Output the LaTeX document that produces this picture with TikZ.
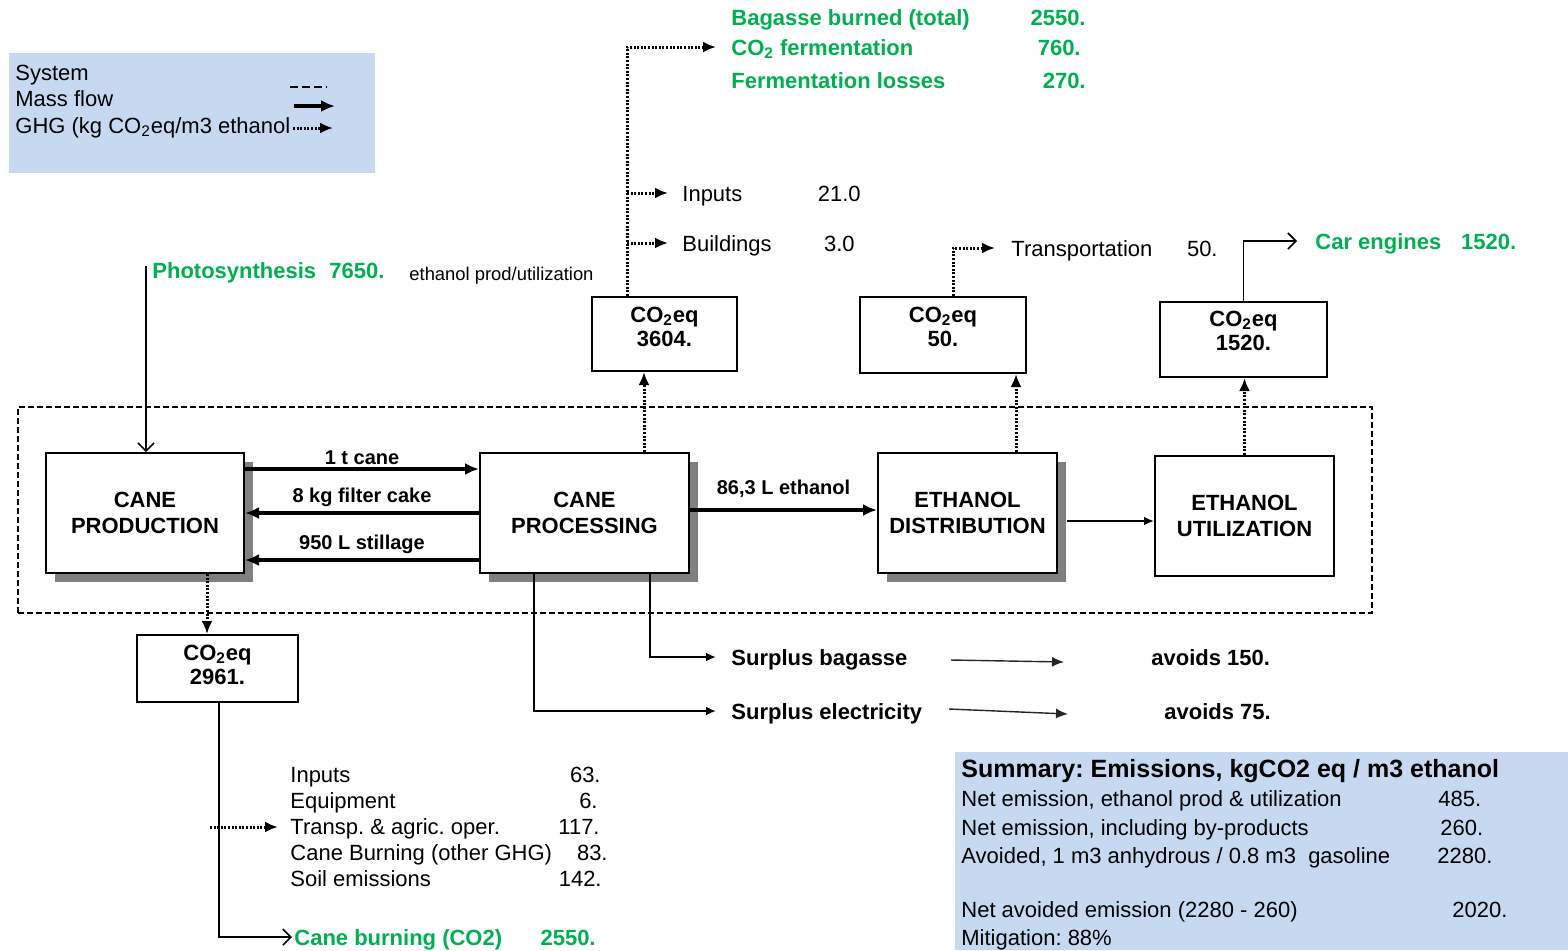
\documentclass[tikz,border=0pt]{standalone}
\usepackage{fontspec}
\setmainfont{Liberation Sans}
\usetikzlibrary{arrows.meta,positioning,calc,shadows}
\frenchspacing
\definecolor{ink}{HTML}{000000}
\definecolor{ghgGreen}{HTML}{00B050}
\definecolor{keyBlue}{HTML}{C6D9F1}
\definecolor{shadeGrey}{HTML}{808080}
\tikzset{
  >={Latex[length=7pt,width=6pt]},
  stage/.style={draw,line width=1pt,fill=white,align=center,inner sep=1pt,
    font=\fontsize{11}{13}\selectfont\bfseries,minimum height=60pt},
  shade/.style={drop shadow={shadow xshift=4.5pt,shadow yshift=-4.5pt,fill=shadeGrey,opacity=1}},
  co2box/.style={draw,line width=1pt,fill=white,align=center,inner sep=1pt,
    font=\fontsize{11}{12}\selectfont\bfseries},
  sysbox/.style={draw,line width=0.8pt,dash pattern=on 3pt off 1.5pt,
    minimum width=677pt,minimum height=103pt},
  keybox/.style={fill=keyBlue,inner sep=0pt},
  txt/.style={font=\fontsize{11}{13}\selectfont,anchor=west,inner sep=0pt,
    text height=10pt,text depth=1.8pt},
  numtxt/.style={txt,anchor=east},
  boldtxt/.style={txt,font=\fontsize{11}{13}\selectfont\bfseries},
  green/.style={boldtxt,text=ghgGreen},
  flowlab/.style={font=\fontsize{10}{12}\selectfont\bfseries,inner sep=1pt},
  mass/.style={->,line width=2.2pt},
  thinflow/.style={-{Latex[length=5pt,width=4.5pt]},line width=1pt},
  ghg/.style={-{Latex[length=6.5pt,width=5.5pt]},line width=1.5pt,dash pattern=on 1pt off 0.8pt},
  opena/.style={-{Straight Barb[length=4pt,width=8pt]},line width=0.8pt},
  avoid/.style={-{Latex[length=6pt,width=5pt]},line width=0.7pt,draw=black!85},
}
\begin{document}
\begin{tikzpicture}[x=0.5pt,y=-0.5pt]
\useasboundingbox (0,0) rectangle (1568,950);

% ================= KEY =================
\node[keybox,minimum width=183pt,minimum height=60pt] (key) at (192,113) {};
\node[txt] (kSys) at (15,72) {System};
\node[txt] (kMass) at (15,98) {Mass flow};
\node[txt] (kGhg) at (15,125) {GHG (kg CO\textsubscript{2}eq/m3 ethanol};
\coordinate (kd1) at (290,87); \coordinate (kd2) at (327,87);
\draw[line width=1pt,dash pattern=on 4pt off 2pt] (kd1) -- (kd2);
\coordinate (km1) at (294,106); \coordinate (km2) at (335,106);
\draw[mass] (km1) -- (km2);
\coordinate (kg1) at (293,128); \coordinate (kg2) at (333,128);
\draw[ghg] (kg1) -- (kg2);

% ================= SYSTEM =================
\node[sysbox] (system) at (695,510) {};
\node[stage,shade,minimum width=99pt] (prod) at (145,513) {CANE\\PRODUCTION};
\node[stage,shade,minimum width=104.5pt] (proc) at (584.5,513) {CANE\\PROCESSING};
\node[stage,shade,minimum width=89.5pt] (dist) at (967.5,513) {ETHANOL\\DISTRIBUTION};
\node[stage,minimum width=89.5pt] (util) at (1244.5,516) {ETHANOL\\UTILIZATION};

\draw[mass] ([yshift=22pt]prod.east) -- ([yshift=22pt]prod.east -| proc.west)
  node[flowlab,midway,above=0pt] {1 t cane};
\draw[mass] (proc.west) -- (proc.west -| prod.east)
  node[flowlab,midway,above=1pt] {8 kg filter cake};
\draw[mass] ([yshift=-23.5pt]proc.west) -- ([yshift=-23.5pt]proc.west -| prod.east)
  node[flowlab,midway,above=1pt] {950 L stillage};
\draw[mass] ([yshift=1.5pt]proc.east) -- ([yshift=1.5pt]proc.east -| dist.west)
  node[flowlab,midway,above=4pt] {86,3 L ethanol};
\draw[thinflow,shorten <=4.5pt] ([yshift=-4pt]dist.east) -- ([yshift=-4pt]dist.east -| util.west);

% ================= CO2 BOXES =================
\node[co2box,minimum width=72.5pt,minimum height=37pt,text depth=7pt] (c3604) at (664.5,334) {CO\textsubscript{2}eq\\3604.};
\node[co2box,minimum width=83pt,minimum height=38pt,text depth=8pt] (c50) at (943,335) {CO\textsubscript{2}eq\\50.};
\node[co2box,minimum width=83.5pt,minimum height=37.5pt,text depth=8.5pt] (c1520) at (1243.5,339.5) {CO\textsubscript{2}eq\\1520.};
\node[co2box,minimum width=80.5pt,minimum height=33.5pt,text depth=4pt] (c2961) at (217.5,668.5) {CO\textsubscript{2}eq\\2961.};

\draw[ghg] ([xshift=29.75pt]proc.north) -- ([xshift=29.75pt]proc.north |- c3604.south);
\draw[ghg] ([xshift=24.25pt]dist.north) -- ([xshift=24.25pt]dist.north |- c50.south);
\draw[ghg] (util.north) -- (util.north |- c1520.south);
\draw[ghg] ([xshift=31pt]prod.south) -- ([xshift=31pt]prod.south |- c2961.north);

% ================= PROCESSING OUTPUTS =================
\node[green] (bagT) at (731,17) {Bagasse burned (total)};
\node[green,anchor=east] (bagN) at (1086,17) {2550.};
\node[green] (ferm) at (731,47) {CO\textsubscript{2} fermentation};
\node[green,anchor=east] (fermN) at (1081,47) {760.};
\node[green] (loss) at (731,80) {Fermentation losses};
\node[green,anchor=east] (lossN) at (1086,80) {270.};
\coordinate (trunk) at ([xshift=-18.75pt]c3604.north);
\draw[ghg] (trunk) |- ([xshift=-7.5pt]ferm.west);
\node[txt] (inpP) at (682,193) {Inputs};
\node[numtxt] (inpPN) at (861,193) {21.0};
\node[txt] (bldP) at (682,243) {Buildings};
\node[numtxt] (bldPN) at (855,243) {3.0};
\draw[ghg] (trunk |- inpP.west) -- ([xshift=-7pt]inpP.west);
\draw[ghg] (trunk |- bldP.west) -- ([xshift=-7pt]bldP.west);

\node[txt] (transp) at (1011,248) {Transportation};
\node[numtxt] (transpN) at (1218,248) {50.};
\draw[ghg] ([xshift=5pt]c50.north) |- ([xshift=-8pt]transp.west);

\node[green] (car) at (1315,241) {Car engines\hspace{0.9em}1520.};
\draw[opena] (c1520.north) |- ([xshift=-9pt]car.west);

% ================= PHOTOSYNTHESIS =================
\node[green] (photo) at (152,270) {Photosynthesis\hspace{0.6em}7650.};
\node[txt,font=\fontsize{9.2}{11}\selectfont] (photoNote) at (409,272) {ethanol prod/utilization};
\coordinate (sun) at (146,266);
\draw[opena] (sun) -- (sun |- prod.north);

% ================= CANE PRODUCTION GHG =================
\node[txt] (inpA) at (290,774) {Inputs};
\node[numtxt] at (601,774) {63.};
\node[txt] (eqA) at (290,800) {Equipment};
\node[numtxt] at (598,800) {6.};
\node[txt] (transA) at (290,826) {Transp. \& agric. oper.};
\node[numtxt] at (600,826) {117.};
\node[txt] (burnA) at (290,852) {Cane Burning (other GHG)};
\node[numtxt] at (608,852) {83.};
\node[txt] (soilA) at (290,878) {Soil emissions};
\node[numtxt] at (602,878) {142.};
\coordinate (agr) at (210,827);
\draw[ghg] (agr) -- ([xshift=-6pt]agr -| transA.west);
\node[green] (burn) at (294,937) {Cane burning (CO2)};
\node[green,anchor=east] (burnN) at (596,937) {2550.};
\draw[opena] ([xshift=0.75pt]c2961.south) |- ([xshift=-1pt]burn.west);

% ================= SURPLUS =================
\node[boldtxt] (bag) at (731,657) {Surplus bagasse};
\node[boldtxt] (elec) at (731,711) {Surplus electricity};
\node[boldtxt] (av150) at (1151,657) {avoids 150.};
\node[boldtxt] (av75) at (1164,711) {avoids 75.};
\draw[thinflow] ([xshift=32.75pt]proc.south) |- ([xshift=-7.5pt]bag.west);
\draw[thinflow] ([xshift=-25.25pt]proc.south) |- ([xshift=-7.5pt]elec.west);
\coordinate (bagS) at (951,660); \coordinate (bagE) at (1064,662);
\draw[avoid] (bagS) -- (bagE);
\coordinate (elecS) at (949,709); \coordinate (elecE) at (1068,714);
\draw[avoid] (elecS) -- (elecE);

% ================= SUMMARY =================
\node[keybox,minimum width=306.5pt,minimum height=99pt] (summary) at (1261.5,851) {};
\node[txt,font=\fontsize{12.5}{14}\selectfont\bfseries] (sumT) at (961,769) {Summary: Emissions, kgCO2 eq / m3 ethanol};
\node[txt] (s1) at (961,798) {Net emission, ethanol prod \& utilization};
\node[txt] at (1438,798) {485.};
\node[txt] (s2) at (961,827) {Net emission, including by-products};
\node[txt] at (1440,827) {260.};
\node[txt] (s3) at (961,855) {Avoided, 1 m3 anhydrous / 0.8 m3\ \ gasoline};
\node[txt] at (1437,855) {2280.};
\node[txt] (s4) at (961,909) {Net avoided emission (2280 - 260)};
\node[txt] at (1452,909) {2020.};
\node[txt] (s5) at (961,937) {Mitigation: 88\%};

\end{tikzpicture}
\end{document}
